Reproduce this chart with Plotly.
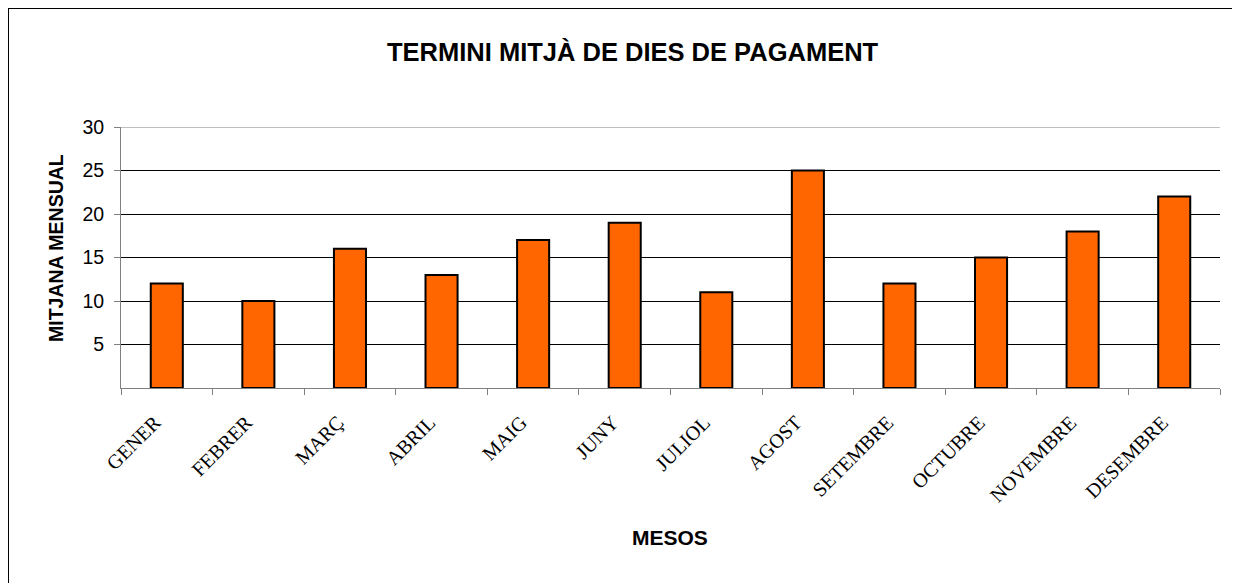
import plotly.graph_objects as go

months = ["GENER", "FEBRER", "MARÇ", "ABRIL", "MAIG", "JUNY", "JULIOL",
          "AGOST", "SETEMBRE", "OCTUBRE", "NOVEMBRE", "DESEMBRE"]
values = [12, 10, 16, 13, 17, 19, 11, 25, 12, 15, 18, 22]
y_ticks = [5, 10, 15, 20, 25, 30]

OFF = 8  # page body margin
W, H = 1232, 575
L, R, T, B = 121 - OFF, 1220 - OFF, 127 - OFF, 388 - OFF
pw, ph = R - L, B - T


def px(x):
    return (x - OFF - L) / pw


def py(y):
    return (B - (y - OFF)) / ph


fig = go.Figure(go.Bar(
    x=months, y=values,
    marker=dict(color="#FF6600", line=dict(color="black", width=2)),
    width=0.35,
))

fig.update_layout(
    width=W, height=H,
    margin=dict(l=L, r=W - R, t=T, b=H - B),
    paper_bgcolor="white", plot_bgcolor="white",
    showlegend=False,
    font=dict(family="Liberation Sans, Arial, sans-serif", color="black"),
    xaxis=dict(
        type="category",
        tickangle=-45,
        tickfont=dict(family="Liberation Serif, Times New Roman, serif", size=20, color="black"),
        ticks="outside", tickson="boundaries", ticklen=6, tickcolor="#808080",
        ticklabelstandoff=14, ticklabelshift=-12,
        showline=True, linecolor="#808080", linewidth=1,
        showgrid=False, zeroline=False,
        range=[-0.5, 11.5],
    ),
    yaxis=dict(
        range=[0, 30],
        tickvals=y_ticks,
        tickfont=dict(family="Liberation Sans, Arial, sans-serif", size=19.5, color="black"),
        ticks="outside", ticklen=6, tickcolor="#808080",
        ticklabelstandoff=6,
        showline=True, linecolor="#808080", linewidth=1,
        showgrid=True, gridcolor="black", gridwidth=1,
        zeroline=False,
    ),
    shapes=[
        dict(type="rect", xref="paper", yref="paper",
             x0=px(8.2), x1=px(1260), y0=py(600), y1=py(8.2),
             line=dict(color="black", width=1.6), fillcolor="rgba(0,0,0,0)", layer="below"),
        dict(type="line", xref="paper", yref="y", x0=0, x1=1, y0=30, y1=30,
             line=dict(color="#808080", width=1.2)),
    ],
    annotations=[
        dict(text="<b>TERMINI MITJÀ DE DIES DE PAGAMENT</b>", xref="paper", yref="paper",
             x=px(633), y=py(52), xanchor="center", yanchor="middle",
             showarrow=False, font=dict(size=25.5)),
        dict(text="<b>MITJANA MENSUAL</b>", xref="paper", yref="paper",
             x=px(56), y=py(248), xanchor="center", yanchor="middle",
             showarrow=False, textangle=-90, font=dict(size=19.5)),
        dict(text="<b>MESOS</b>", xref="paper", yref="paper",
             x=px(670), y=py(537), xanchor="center", yanchor="middle",
             showarrow=False, font=dict(size=21)),
    ],
)

fig.write_html("out.html")
